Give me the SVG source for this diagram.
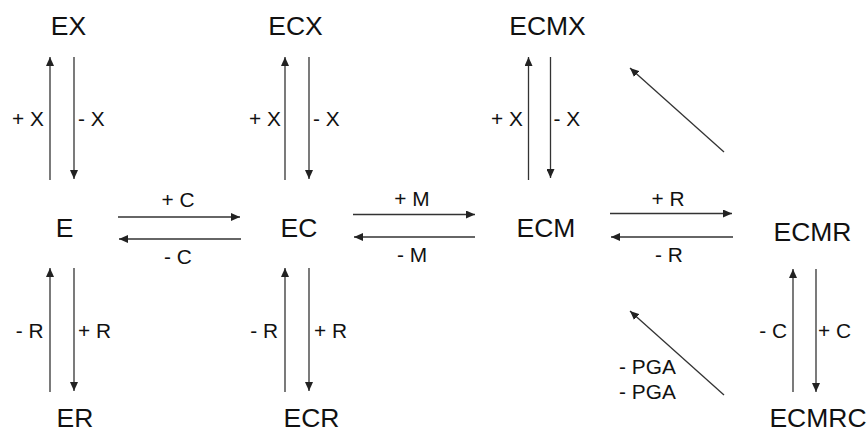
<svg xmlns="http://www.w3.org/2000/svg" width="867" height="434" viewBox="0 0 867 434">
<defs>
<marker id="ah" markerUnits="userSpaceOnUse" markerWidth="9" markerHeight="8" refX="9" refY="4" orient="auto">
<path d="M0,0 L9,4 L0,8 z" fill="#222"/>
</marker>
<style>
.node{font-family:"Liberation Sans",Arial,sans-serif;font-size:25px;fill:#111;text-anchor:middle}
.lbl{font-family:"Liberation Sans",Arial,sans-serif;font-size:19.5px;fill:#111}
.c{text-anchor:middle}.e{text-anchor:end}.s{text-anchor:start}
.cn line{stroke:#333;stroke-width:1.3;marker-end:url(#ah)}
</style>
</defs>
<rect width="867" height="434" fill="#fff"/>
<g id="EX"><text class="node" transform="translate(68.5 35) scale(1.06 1)">EX</text></g>
<g id="ECX"><text class="node" transform="translate(295.5 35) scale(1.06 1)">ECX</text></g>
<g id="ECMX"><text class="node" transform="translate(547.5 35) scale(1.06 1)">ECMX</text></g>
<g id="E"><text class="node" transform="translate(64.5 237) scale(1.06 1)">E</text></g>
<g id="EC"><text class="node" transform="translate(299 237) scale(1.06 1)">EC</text></g>
<g id="ECM"><text class="node" transform="translate(546 237) scale(1.06 1)">ECM</text></g>
<g id="ECMR"><text class="node" transform="translate(812.5 241) scale(1.06 1)">ECMR</text></g>
<g id="ER"><text class="node" transform="translate(75 427) scale(1.06 1)">ER</text></g>
<g id="ECR"><text class="node" transform="translate(311.5 427) scale(1.06 1)">ECR</text></g>
<g id="ECMRC"><text class="node" transform="translate(818 427) scale(1.06 1)">ECMRC</text></g>
<g id="connectors" class="cn">
<line x1="50" y1="180" x2="50" y2="57"/>
<line x1="74" y1="57" x2="74" y2="179"/>
<line x1="285" y1="180" x2="285" y2="57"/>
<line x1="309" y1="57" x2="309" y2="179"/>
<line x1="528.5" y1="180" x2="528.5" y2="57"/>
<line x1="550.5" y1="57" x2="550.5" y2="178"/>
<line x1="118" y1="217" x2="240" y2="217"/>
<line x1="241" y1="239" x2="119" y2="239"/>
<line x1="353" y1="214.5" x2="475" y2="214.5"/>
<line x1="475" y1="237" x2="354" y2="237"/>
<line x1="610" y1="213.5" x2="732" y2="213.5"/>
<line x1="733" y1="237" x2="611" y2="237"/>
<line x1="50" y1="392" x2="50" y2="268"/>
<line x1="74" y1="268" x2="74" y2="391"/>
<line x1="285" y1="392" x2="285" y2="268"/>
<line x1="309" y1="268" x2="309" y2="391"/>
<line x1="793" y1="392" x2="793" y2="269"/>
<line x1="816" y1="269" x2="816" y2="392"/>
<line x1="724" y1="152" x2="630" y2="68"/>
<line x1="724" y1="395" x2="630" y2="311"/>
</g>
<g id="labels">
<text class="lbl e" transform="translate(44 126) scale(1.07 1)">+ X</text>
<text class="lbl s" transform="translate(78 126) scale(1.07 1)">- X</text>
<text class="lbl e" transform="translate(281 126) scale(1.07 1)">+ X</text>
<text class="lbl s" transform="translate(313 126) scale(1.07 1)">- X</text>
<text class="lbl e" transform="translate(523 126) scale(1.07 1)">+ X</text>
<text class="lbl s" transform="translate(553.5 126) scale(1.07 1)">- X</text>
<text class="lbl c" transform="translate(178 207) scale(1.07 1)">+ C</text>
<text class="lbl c" transform="translate(178 264) scale(1.07 1)">- C</text>
<text class="lbl c" transform="translate(412 206) scale(1.07 1)">+ M</text>
<text class="lbl c" transform="translate(412 262) scale(1.07 1)">- M</text>
<text class="lbl c" transform="translate(668 206) scale(1.07 1)">+ R</text>
<text class="lbl c" transform="translate(669 262) scale(1.07 1)">- R</text>
<text class="lbl e" transform="translate(43.5 338) scale(1.07 1)">- R</text>
<text class="lbl s" transform="translate(78 338) scale(1.07 1)">+ R</text>
<text class="lbl e" transform="translate(278 338) scale(1.07 1)">- R</text>
<text class="lbl s" transform="translate(314 338) scale(1.07 1)">+ R</text>
<text class="lbl e" transform="translate(787 338) scale(1.07 1)">- C</text>
<text class="lbl s" transform="translate(818 338) scale(1.07 1)">+ C</text>
<text class="lbl s" transform="translate(619 374) scale(1.07 1)">- PGA</text>
<text class="lbl s" transform="translate(619 399) scale(1.07 1)">- PGA</text>
</g>
</svg>
